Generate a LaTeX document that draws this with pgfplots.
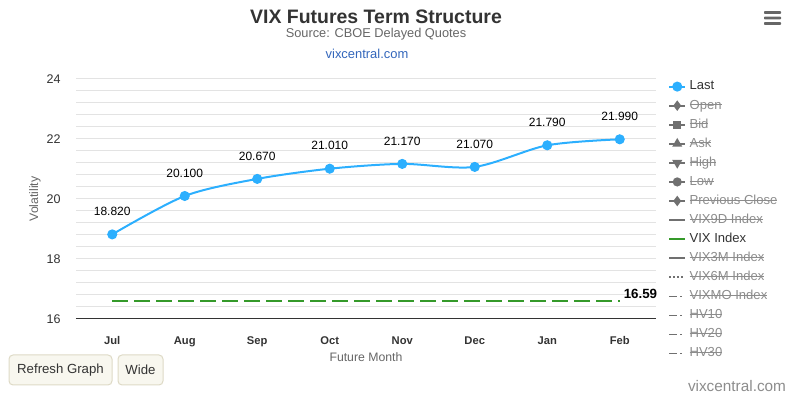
\documentclass[border=0pt]{standalone}
\usepackage{pgfplots}
\pgfplotsset{compat=1.18}
\usepackage{fontspec}
\setmainfont{Liberation Sans}
\definecolor{lastblue}{HTML}{2CAFFE}
\definecolor{vixgreen}{HTML}{359A2A}
\definecolor{txt}{HTML}{333333}
\definecolor{sub}{HTML}{666666}
\definecolor{gridc}{HTML}{E3E3E3}
\definecolor{hid}{HTML}{8C8C8C}
\definecolor{hidsym}{HTML}{707070}
\definecolor{linkc}{HTML}{3366BB}
\definecolor{btnfill}{HTML}{F8F7EF}
\definecolor{btnline}{HTML}{DEDAC6}
\newcommand\strike[1]{\setbox0=\hbox{#1}\rlap{\rule[0.3em]{\wd0}{0.55pt}}\box0}
\newcommand\fs[1]{\fontsize{#1}{#1}\selectfont}
\pgfplotsset{
  legend image code/.code={\draw[mark repeat=2,mark phase=2,#1] plot coordinates {(0pt,0pt) (6pt,0pt) (12pt,0pt)};}
}
\begin{document}
\begin{tikzpicture}[x=0.75pt,y=0.75pt]
\path[use as bounding box] (0,0) rectangle (794,398);
% titles
\node[font=\bfseries\fs{14.6}, text=txt] at (376,381) {VIX Futures Term Structure};
\node[font=\fs{9.6}, text=sub] at (376,364) {Source: CBOE Delayed Quotes};
\node[font=\fs{9.7}, text=linkc] at (367,344) {vixcentral.com};
% menu icon
\foreach \yy in {385.5,380,374.5}{\fill[sub, rounded corners=0.5pt] (764,\yy-1.3) rectangle (781,\yy+1.3);}
% buttons
\draw[btnline, fill=btnfill, rounded corners=3pt, line width=0.75pt] (9,13) rectangle (112,43);
\draw[btnline, fill=btnfill, rounded corners=3pt, line width=0.75pt] (118,13) rectangle (163,43);
\node[font=\fs{9.9}, text=txt] at (60.5,28) {Refresh Graph};
\node[font=\fs{9.9}, text=txt] at (140.5,28) {Wide};
\node[font=\fs{11.5}, text=hid] at (737,12) {vixcentral.com};
\begin{axis}[
  at={(57pt,59.25pt)}, anchor=south west, scale only axis,
  width=435pt, height=180pt,
  xmin=-0.5, xmax=7.5, ymin=16, ymax=24,
  xtick={0,1,2,3,4,5,6,7},
  xticklabels={Jul,Aug,Sep,Oct,Nov,Dec,Jan,Feb},
  ytick={16,18,20,22,24},
  minor y tick num=4,
  ymajorgrids, yminorgrids,
  major grid style={gridc, line width=0.75pt},
  minor grid style={gridc, line width=0.75pt},
  major tick length=0pt, minor tick length=0pt,
  axis x line*=bottom, axis y line*=left,
  y axis line style={draw=none},
  x axis line style={-, draw=txt, line width=0.75pt},
  /pgf/number format/assume math mode=true,
  yticklabel style={font=\fs{9.4}, text=txt, xshift=-8pt},
  xticklabel style={font=\bfseries\fs{8.4}, text=txt, yshift=-9.5pt},
  ylabel={Volatility},
  ylabel style={at={(axis description cs:-0.0707,0.5)}, anchor=center, font=\fs{9.2}, text=sub},
  xlabel={Future Month},
  xlabel style={at={(axis description cs:0.5,-0.158)}, anchor=center, font=\fs{9.2}, text=sub},
  clip=false,
  legend cell align=left,
  legend style={at={(axis description cs:1,1)}, anchor=north west, xshift=6pt, yshift=1pt,
    draw=none, fill=none, font=\fs{9.8},
    nodes={inner sep=0pt, text height=7pt, text depth=2pt},
    row sep=5.3pt,
    /tikz/every odd column/.append style={column sep=2.5pt}},
]
\addplot[lastblue, line width=1.5pt, smooth, tension=0.5, mark=*, mark size=3pt,
  mark options={draw=none, fill=lastblue},
  nodes near coords={\pgfmathprintnumber[fixed,fixed zerofill,precision=3]{\pgfplotspointmeta}},
  nodes near coords style={anchor=center, yshift=17.25pt, font=\fs{9}, text=black}]
  coordinates {(0,18.82) (1,20.10) (2,20.67) (3,21.01) (4,21.17) (5,21.07) (6,21.79) (7,21.99)};
\addlegendentry{\textcolor{txt}{Last}}
\addlegendimage{hidsym, line width=1.4pt, mark=diamond*, mark size=2.8pt}
\addlegendentry{\textcolor{hid}{\strike{Open}}}
\addlegendimage{hidsym, line width=1.4pt, mark=square*, mark size=2.4pt}
\addlegendentry{\textcolor{hid}{\strike{Bid}}}
\addlegendimage{hidsym, line width=1.4pt, mark=triangle*, mark size=3pt}
\addlegendentry{\textcolor{hid}{\strike{Ask}}}
\addlegendimage{hidsym, line width=1.4pt, mark=triangle*, mark size=3pt, mark options={rotate=180}}
\addlegendentry{\textcolor{hid}{\strike{High}}}
\addlegendimage{hidsym, line width=1.4pt, mark=*, mark size=2.7pt}
\addlegendentry{\textcolor{hid}{\strike{Low}}}
\addlegendimage{hidsym, line width=1.4pt, mark=diamond*, mark size=2.8pt}
\addlegendentry{\textcolor{hid}{\strike{Previous Close}}}
\addlegendimage{hidsym, line width=1.2pt}
\addlegendentry{\textcolor{hid}{\strike{VIX9D Index}}}
\addplot[vixgreen, line width=1.5pt, dash pattern=on 12pt off 4.5pt]
  coordinates {(0,16.59) (7,16.59)};
\addlegendentry{\textcolor{txt}{VIX Index}}
\addplot[draw=none, forget plot,
  nodes near coords={\pgfmathprintnumber[fixed,fixed zerofill,precision=2]{\pgfplotspointmeta}},
  nodes near coords style={anchor=west, xshift=-0.5pt, yshift=5.25pt, font=\bfseries\fs{10}, text=black}]
  coordinates {(7,16.59)};
\addlegendimage{hidsym, line width=1.2pt}
\addlegendentry{\textcolor{hid}{\strike{VIX3M Index}}}
\addlegendimage{hidsym, line width=1.2pt, dash pattern=on 1.5pt off 1.5pt}
\addlegendentry{\textcolor{hid}{\strike{VIX6M Index}}}
\addlegendimage{hidsym, line width=1.2pt, dash pattern=on 6pt off 2.25pt on 1.5pt off 6pt}
\addlegendentry{\textcolor{hid}{\strike{VIXMO Index}}}
\addlegendimage{hidsym, line width=1.2pt, dash pattern=on 6pt off 2.25pt on 1.5pt off 6pt}
\addlegendentry{\textcolor{hid}{\strike{HV10}}}
\addlegendimage{hidsym, line width=1.2pt, dash pattern=on 6pt off 2.25pt on 1.5pt off 6pt}
\addlegendentry{\textcolor{hid}{\strike{HV20}}}
\addlegendimage{hidsym, line width=1.2pt, dash pattern=on 6pt off 2.25pt on 1.5pt off 6pt}
\addlegendentry{\textcolor{hid}{\strike{HV30}}}
\end{axis}
\end{tikzpicture}
\end{document}
